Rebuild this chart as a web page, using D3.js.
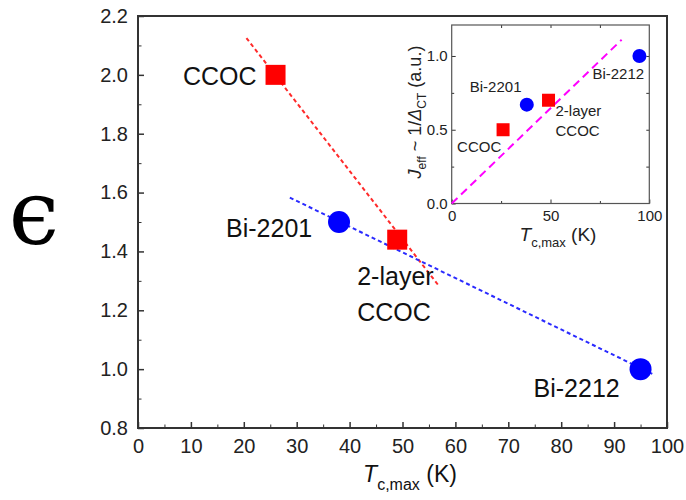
<!DOCTYPE html>
<html>
<head>
<meta charset="utf-8">
<script src="https://cdn.jsdelivr.net/npm/d3@7"></script>
<style>
  body { margin: 0; background: #fff; }
  svg { display: block; font-family: Arial, "Liberation Sans", sans-serif; }
  .frame { fill: none; stroke: #333; }
  .tick line { stroke: #333; }
  .tick text { fill: #222; }
</style>
</head>
<body>
<script>
const WIDTH = 686;
const HEIGHT = 500;

// main plot data
const names = ["CCOC", "2-layer CCOC", "Bi-2201", "Bi-2212"];
const shapes = ["square", "square", "circle", "circle"];
const tcMax = [26, 49, 38, 95];
const epsilon = [2.0, 1.44, 1.5, 1.0];

// inset data
const insetTc = [26, 49, 38, 95];
const insetJ = [0.5, 0.70, 0.67, 1.0];

// fitted dashed lines (end points)
const redFit = [[20.5, 2.125], [57, 1.28]];
const blueFit = [[28.7, 1.583], [97.7, 0.98]];
const magentaFit = [[0, 0], [86, 1.11]];

const xTicks = [0, 10, 20, 30, 40, 50, 60, 70, 80, 90, 100];
const yTicks = [0.8, 1.0, 1.2, 1.4, 1.6, 1.8, 2.0, 2.2];
const insetXTicks = [0, 50, 100];
const insetYTicks = [0.0, 0.5, 1.0];

const RED = "#ff0000";
const BLUE = "#0000ff";

var svg = d3.select("body").append("svg")
    .attr("width", WIDTH)
    .attr("height", HEIGHT);

// ---------- main plot ----------
var M = {left: 138, right: 667, top: 16, bottom: 428};

var x = d3.scaleLinear().domain([0, 100]).range([M.left, M.right]);
var y = d3.scaleLinear().domain([0.8, 2.2]).range([M.bottom, M.top]);

var minorX = d3.range(5, 100, 10);
var minorY = d3.range(0.9, 2.2, 0.2);

svg.append("g")
    .attr("transform", "translate(0," + M.bottom + ")")
    .call(d3.axisBottom(x).tickValues(minorX).tickSize(-3.5).tickFormat(""))
    .call(g => g.select(".domain").remove());
svg.append("g")
    .attr("transform", "translate(0," + M.bottom + ")")
    .call(d3.axisBottom(x).tickValues(xTicks).tickSize(-6).tickPadding(11).tickFormat(d3.format("d")))
    .call(g => g.select(".domain").remove())
    .call(g => g.selectAll("text").attr("font-size", 20).attr("dy", "0.71em"))
    .call(g => g.selectAll("line").attr("stroke-width", 1.5));

svg.append("g")
    .attr("transform", "translate(" + M.left + ",0)")
    .call(d3.axisLeft(y).tickValues(minorY).tickSize(-3.5).tickFormat(""))
    .call(g => g.select(".domain").remove());
svg.append("g")
    .attr("transform", "translate(" + M.left + ",0)")
    .call(d3.axisLeft(y).tickValues(yTicks).tickSize(-6).tickPadding(10).tickFormat(d3.format(".1f")))
    .call(g => g.select(".domain").remove())
    .call(g => g.selectAll("text").attr("font-size", 20))
    .call(g => g.selectAll("line").attr("stroke-width", 1.5));

svg.append("rect").attr("class", "frame")
    .attr("x", M.left).attr("y", M.top)
    .attr("width", M.right - M.left).attr("height", M.bottom - M.top)
    .attr("stroke-width", 2);

var line = d3.line().x(d => x(d[0])).y(d => y(d[1]));

svg.append("path").attr("d", line(redFit))
    .attr("fill", "none").attr("stroke", "#ff2a2a").attr("stroke-width", 2)
    .attr("stroke-dasharray", "4,3");
svg.append("path").attr("d", line(blueFit))
    .attr("fill", "none").attr("stroke", "#2a2aff").attr("stroke-width", 2)
    .attr("stroke-dasharray", "4,3");

var pts = names.map((n, i) => ({name: n, shape: shapes[i], x: tcMax[i], y: epsilon[i], ix: insetTc[i], iy: insetJ[i]}));

svg.selectAll(".msq").data(pts.filter(d => d.shape === "square")).enter()
    .append("rect").attr("class", "msq")
    .attr("x", d => x(d.x) - 10).attr("y", d => y(d.y) - 10)
    .attr("width", 20).attr("height", 20).attr("fill", RED);
svg.selectAll(".mci").data(pts.filter(d => d.shape === "circle")).enter()
    .append("circle").attr("class", "mci")
    .attr("cx", d => x(d.x)).attr("cy", d => y(d.y))
    .attr("r", 11).attr("fill", BLUE);

// main labels: [dx, dy, anchor] offsets from each point
var mainOffsets = {
  "CCOC": [[-19, 10, "end"]],
  "2-layer CCOC": [[-40, 45, "start"], [-40, 81, "start"]],
  "Bi-2201": [[-113, 15, "start"]],
  "Bi-2212": [[-107, 28, "start"]]
};
pts.forEach(function(d) {
  var parts = d.name === "2-layer CCOC" ? ["2-layer", "CCOC"] : [d.name];
  parts.forEach(function(p, k) {
    var o = mainOffsets[d.name][k];
    svg.append("text")
        .attr("x", x(d.x) + o[0]).attr("y", y(d.y) + o[1])
        .attr("text-anchor", o[2]).attr("font-size", 25).attr("fill", "#111")
        .text(p);
  });
});

// axis title
var xt = svg.append("text").attr("x", 410).attr("y", 482)
    .attr("text-anchor", "middle").attr("font-size", 23).attr("fill", "#111");
xt.append("tspan").attr("font-style", "italic").text("T");
xt.append("tspan").attr("font-size", 16).attr("dy", 8).text("c,max");
xt.append("tspan").attr("dy", -8).text(" (K)");

svg.append("text").attr("x", 34).attr("y", 244)
    .attr("text-anchor", "middle").attr("font-size", 90)
    .attr("font-family", "DejaVu Serif, serif").attr("fill", "#000")
    .text("\u03F5");

// ---------- inset ----------
var I = {left: 451.7, right: 649.3, top: 25, bottom: 203.5};
var ix = d3.scaleLinear().domain([0, 100]).range([I.left, I.right]);
var iy = d3.scaleLinear().domain([0, 1.21]).range([I.bottom, I.top]);

var inset = svg.append("g");

function insetAxis(axisFn, scale, pos, vals, size, fmt) {
  var a = axisFn(scale).tickValues(vals).tickSize(size);
  a = fmt ? a.tickFormat(fmt) : a.tickFormat("");
  return inset.append("g").attr("transform", pos).call(a)
      .call(g => g.select(".domain").remove())
      .call(g => g.selectAll("line").attr("stroke", "#555"));
}
var iMinorX = [25, 75];
var iMinorY = [0.25, 0.75];
insetAxis(d3.axisBottom, ix, "translate(0," + I.bottom + ")", insetXTicks, -4, d3.format("d"))
    .call(g => g.selectAll("text").attr("font-size", 15).attr("dy", "0.71em"))
    .call(g => g.selectAll(".tick text").attr("y", 7));
insetAxis(d3.axisBottom, ix, "translate(0," + I.bottom + ")", iMinorX, -2.5);
insetAxis(d3.axisTop, ix, "translate(0," + I.top + ")", iMinorX.concat([50]), -3);
insetAxis(d3.axisLeft, iy, "translate(" + I.left + ",0)", insetYTicks, -4, d3.format(".1f"))
    .call(g => g.selectAll("text").attr("font-size", 15).attr("x", -4));
insetAxis(d3.axisLeft, iy, "translate(" + I.left + ",0)", iMinorY, -2.5);
insetAxis(d3.axisRight, iy, "translate(" + I.right + ",0)", iMinorY.concat([0.5, 1.0]), -3);

inset.append("rect").attr("fill", "none").attr("stroke", "#555").attr("stroke-width", 1.2)
    .attr("x", I.left).attr("y", I.top)
    .attr("width", I.right - I.left).attr("height", I.bottom - I.top);

var iline = d3.line().x(d => ix(d[0])).y(d => iy(d[1]));
inset.append("path").attr("d", iline(magentaFit))
    .attr("fill", "none").attr("stroke", "#ff00ff").attr("stroke-width", 2)
    .attr("stroke-dasharray", "8,5");

inset.selectAll(".isq").data(pts.filter(d => d.shape === "square")).enter()
    .append("rect").attr("class", "isq")
    .attr("x", d => ix(d.ix) - 6.5).attr("y", d => iy(d.iy) - 6.5)
    .attr("width", 13).attr("height", 13).attr("fill", RED);
inset.selectAll(".ici").data(pts.filter(d => d.shape === "circle")).enter()
    .append("circle").attr("class", "ici")
    .attr("cx", d => ix(d.ix)).attr("cy", d => iy(d.iy))
    .attr("r", 7).attr("fill", BLUE);

var insetOffsets = {
  "CCOC": [[-46, 22]],
  "2-layer CCOC": [[7, 16], [7, 36]],
  "Bi-2201": [[-57, -13]],
  "Bi-2212": [[-47, 23]]
};
pts.forEach(function(d) {
  var parts = d.name === "2-layer CCOC" ? ["2-layer", "CCOC"] : [d.name];
  parts.forEach(function(p, k) {
    var o = insetOffsets[d.name][k];
    inset.append("text")
        .attr("x", ix(d.ix) + o[0]).attr("y", iy(d.iy) + o[1])
        .attr("font-size", 15).attr("fill", "#222")
        .text(p);
  });
});

var ixt = inset.append("text").attr("x", 558).attr("y", 241)
    .attr("text-anchor", "middle").attr("font-size", 19).attr("fill", "#222");
ixt.append("tspan").attr("font-style", "italic").text("T");
ixt.append("tspan").attr("font-size", 13).attr("dy", 6).text("c,max");
ixt.append("tspan").attr("dy", -6).text(" (K)");

var iyt = inset.append("text")
    .attr("transform", "translate(421,112) rotate(-90)")
    .attr("text-anchor", "middle").attr("font-size", 18).attr("fill", "#222");
iyt.append("tspan").attr("font-style", "italic").text("J");
iyt.append("tspan").attr("font-size", 12).attr("dy", 5).text("eff");
iyt.append("tspan").attr("dy", -5).text(" ~ 1/");
iyt.append("tspan").attr("font-style", "italic").text("\u0394");
iyt.append("tspan").attr("font-size", 12).attr("dy", 5).text("CT");
iyt.append("tspan").attr("dy", -5).text(" (a.u.)");
</script>
</body>
</html>
